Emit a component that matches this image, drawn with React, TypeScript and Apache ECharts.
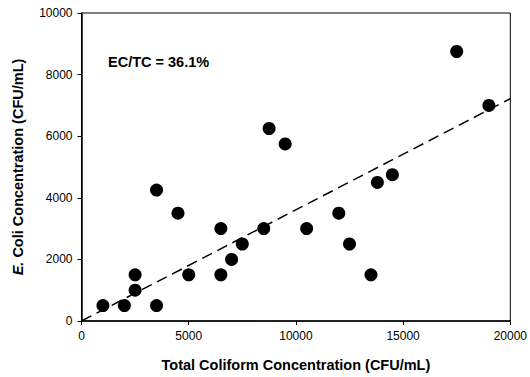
import React, { useEffect, useRef } from "react";
import * as echarts from "echarts";

const totalColiform = [1000, 2000, 2500, 2500, 3500, 3500, 4500, 5000, 6500, 6500, 7000, 7500, 8500, 8750, 9500, 10500, 12000, 12500, 13500, 13800, 14500, 17500, 19000];
const eColi = [500, 500, 1000, 1500, 500, 4250, 3500, 1500, 3000, 1500, 2000, 2500, 3000, 6250, 5750, 3000, 3500, 2500, 1500, 4500, 4750, 8750, 7000];
const ratio = 0.361;
const fitX = [0, 20000];
const xTicks = [0, 5000, 10000, 15000, 20000];
const yTicks = [0, 2000, 4000, 6000, 8000, 10000];

const FONT = "'Liberation Sans', Arial, sans-serif";

export default function App() {
  const ref = useRef<HTMLDivElement>(null);
  useEffect(() => {
    if (!ref.current) return;
    const chart = echarts.init(ref.current, undefined, { renderer: "svg" });
    const points = totalColiform.map((x, i) => [x, eColi[i]]);
    const fit = fitX.map((x) => [x, x * ratio]);
    const plain = (v: number) => String(v);
    chart.setOption({
      animation: false,
      backgroundColor: "#fff",
      grid: {
        left: 81.5,
        right: 18,
        top: 13,
        bottom: 55.5,
        show: true,
        borderColor: "#000",
        borderWidth: 1,
      },
      xAxis: {
        type: "value",
        min: xTicks[0],
        max: xTicks[xTicks.length - 1],
        interval: 5000,
        name: "Total Coliform Concentration (CFU/mL)",
        nameLocation: "middle",
        nameGap: 36,
        nameTextStyle: { fontFamily: FONT, fontSize: 14.5, fontWeight: "bold", color: "#000" },
        axisLine: { lineStyle: { color: "#000", width: 1.5 } },
        axisTick: { show: true, length: 4, lineStyle: { color: "#000" } },
        axisLabel: { fontFamily: FONT, fontSize: 12, color: "#000", margin: 9, formatter: plain },
        splitLine: { show: false },
      },
      yAxis: {
        type: "value",
        min: yTicks[0],
        max: yTicks[yTicks.length - 1],
        interval: 2000,
        name: "{i|E.} Coli Concentration (CFU/mL)",
        nameLocation: "middle",
        nameGap: 56,
        nameTextStyle: {
          fontFamily: FONT,
          fontSize: 14.5,
          fontWeight: "bold",
          color: "#000",
          rich: {
            i: { fontFamily: FONT, fontSize: 14.5, fontWeight: "bold", fontStyle: "italic", color: "#000" },
          },
        },
        axisLine: { lineStyle: { color: "#000", width: 1.5 } },
        axisTick: { show: true, length: 4, lineStyle: { color: "#000" } },
        axisLabel: { fontFamily: FONT, fontSize: 12, color: "#000", margin: 9, formatter: plain },
        splitLine: { show: false },
      },
      graphic: [
        {
          type: "text",
          left: 108,
          top: 54,
          style: {
            text: "EC/TC = 36.1%",
            fontFamily: FONT,
            fontSize: 14.5,
            fontWeight: "bold",
            fill: "#000",
          },
        },
      ],
      series: [
        {
          type: "line",
          data: fit,
          symbol: "none",
          lineStyle: { color: "#000", width: 1.5, type: [11, 6] },
          z: 1,
        },
        {
          type: "scatter",
          data: points,
          symbol: "circle",
          symbolSize: 13,
          itemStyle: { color: "#000", opacity: 1 },
          z: 2,
        },
      ],
    });
    return () => chart.dispose();
  }, []);
  return <div ref={ref} style={{ width: 530, height: 377, position: "absolute", left: 0, top: 0 }} />;
}
